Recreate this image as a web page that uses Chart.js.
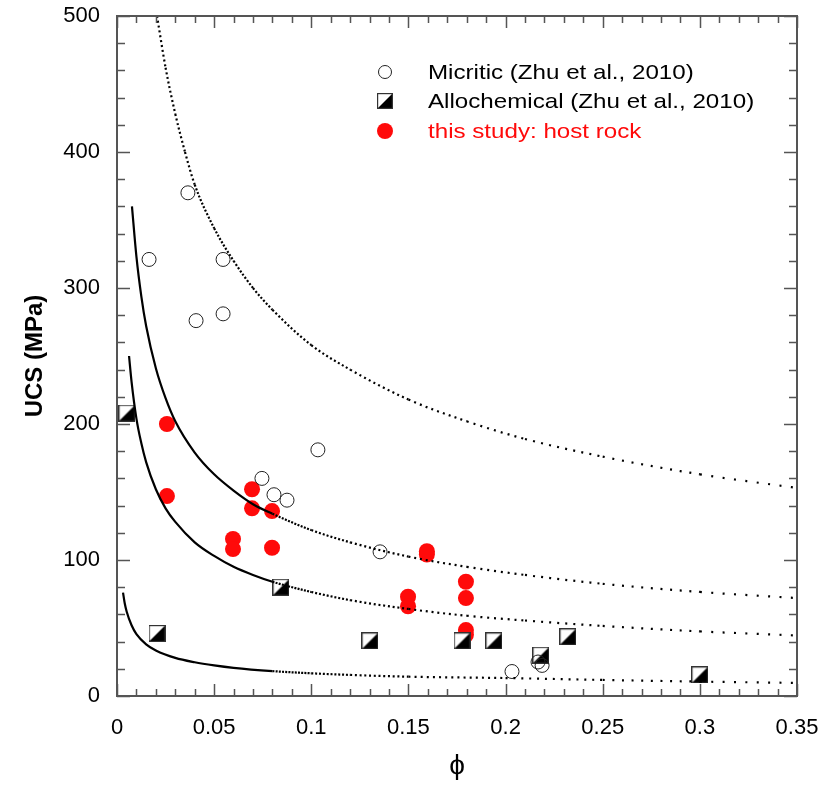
<!DOCTYPE html>
<html>
<head>
<meta charset="utf-8">
<script src="https://cdn.jsdelivr.net/npm/chart.js@4.4.1/dist/chart.umd.min.js"></script>
<style>
  html, body { margin: 0; padding: 0; background: #fff; }
  #wrap { width: 827px; height: 786px; }
</style>
</head>
<body>
<div id="wrap"><canvas id="chart" width="827" height="786"></canvas></div>
<script>
// Valores (porosidad ϕ vs UCS en MPa).
const X_TICKS = [0, 0.05, 0.1, 0.15, 0.2, 0.25, 0.3, 0.35];
const Y_TICKS = [0, 100, 200, 300, 400, 500];

// Curvas del modelo: parte sólida hasta SOLID_END, punteada después
const SOLID_END = 0.08;
const curveAPhi = [0.0206, 0.025, 0.03, 0.035, 0.04, 0.05, 0.06, 0.07, 0.08, 0.10, 0.12, 0.15, 0.18, 0.21, 0.25, 0.30, 0.35];
const curveAUcs = [500, 462, 428, 400, 376, 344, 320, 300, 284, 258, 240, 218, 202, 189, 176, 163, 153];
const curveBPhi = [0.0077, 0.01, 0.0125, 0.015, 0.02, 0.025, 0.03, 0.04, 0.05, 0.06, 0.07, 0.08, 0.10, 0.12, 0.15, 0.18, 0.21, 0.25, 0.30, 0.35];
const curveBUcs = [360, 323, 294, 272, 241, 219, 202, 179, 163, 151, 141, 134, 122, 113, 102.5, 95, 89, 82.5, 76.5, 72];
const curveCPhi = [0.0062, 0.0075, 0.01, 0.0125, 0.015, 0.02, 0.025, 0.03, 0.04, 0.05, 0.06, 0.07, 0.08, 0.10, 0.12, 0.15, 0.18, 0.21, 0.25, 0.30, 0.35];
const curveCUcs = [250, 231, 204, 186, 172, 152, 138, 128, 113, 103, 95, 89, 84, 76.5, 70.5, 64, 59, 55.5, 51.5, 47.5, 44.5];
const curveDPhi = [0.0031, 0.004, 0.005, 0.0075, 0.01, 0.015, 0.02, 0.03, 0.04, 0.05, 0.06, 0.08, 0.10, 0.12, 0.15, 0.20, 0.25, 0.30, 0.35];
const curveDUcs = [76, 68, 62, 52, 45.5, 38, 33.5, 28, 24.8, 22.5, 20.7, 18.3, 16.7, 15.5, 14.2, 13.2, 11.8, 10.6, 9.6];

// Datos puntuales
const micriticPhi = [0.0165, 0.0365, 0.0407, 0.0546, 0.0546, 0.0746, 0.0808, 0.0875, 0.1034, 0.1354, 0.2033, 0.2167, 0.2188];
const micriticUcs = [321, 370, 276, 321, 281, 160, 148, 144, 181, 106, 18, 25, 22.5];
const allochemPhi = [0.0051, 0.0206, 0.0844, 0.1302, 0.1776, 0.194, 0.2182, 0.2321, 0.300];
const allochemUcs = [208, 46, 80, 40.5, 40.5, 40.5, 30, 43.5, 15.5];
const hostPhi = [0.0257, 0.0257, 0.0695, 0.0695, 0.0798, 0.0597, 0.0597, 0.0798, 0.1595, 0.1595, 0.1498, 0.1498, 0.1796, 0.1796, 0.1796, 0.1796];
const hostUcs = [200, 147, 152, 138, 136, 115.5, 108, 109, 104, 106.5, 73, 66, 84, 72, 48.5, 45];

const LEGEND_LABELS = ['Micritic (Zhu et al., 2010)', 'Allochemical (Zhu et al., 2010)', 'this study: host rock'];

const RED = '#ff0a0a';
const FONT = "Arial, 'Liberation Sans', Helvetica, sans-serif";

const pts = (xs, ys) => xs.map((x, i) => ({ x, y: ys[i] }));

// Cuadrado mitad negro (triángulo inferior derecho)
function halfSquare(size) {
  const c = document.createElement('canvas');
  c.width = size; c.height = size;
  const g = c.getContext('2d');
  g.fillStyle = '#fff';
  g.fillRect(0, 0, size, size);
  g.fillStyle = '#000';
  g.beginPath();
  g.moveTo(size, 0);
  g.lineTo(size, size);
  g.lineTo(0, size);
  g.closePath();
  g.fill();
  g.strokeStyle = '#333';
  g.lineWidth = 1.2;
  g.strokeRect(0.6, 0.6, size - 1.2, size - 1.2);
  return c;
}
const squareImg = halfSquare(17);
const squareLegend = halfSquare(16);

// Punteado: los puntos se separan más a medida que crece ϕ
function dotted(ctx, solidEnd) {
  if (ctx.p0.parsed.x < solidEnd - 1e-9) return undefined;
  const dx = Math.max(ctx.p1.x - ctx.p0.x, 0.1);
  const len = Math.hypot(ctx.p1.x - ctx.p0.x, ctx.p1.y - ctx.p0.y);
  const phi = (ctx.p0.parsed.x + ctx.p1.parsed.x) / 2;
  const period = Math.max(3.2, 35 * phi * len / dx);
  return [2, period - 2];
}

function curveDataset(xs, ys, solidEnd) {
  return {
    data: pts(xs, ys),
    showLine: true,
    pointRadius: 0,
    borderColor: '#000',
    borderWidth: 2.2,
    cubicInterpolationMode: 'monotone',
    segment: { borderDash: ctx => dotted(ctx, solidEnd) }
  };
}

// Marco con ticks hacia adentro en los cuatro lados + leyenda
const framePlugin = {
  id: 'frame',
  afterDatasetsDraw(chart) {
    const { ctx, chartArea: a, scales: { x, y } } = chart;
    ctx.save();
    ctx.strokeStyle = '#555';
    ctx.lineWidth = 1.5;
    ctx.beginPath();
    for (let i = 0; i <= 35; i++) {
      const px = Math.round(x.getPixelForValue(i / 100)) + 0.5;
      const len = i % 5 === 0 ? 12 : 7;
      ctx.moveTo(px, a.bottom); ctx.lineTo(px, a.bottom - len);
      ctx.moveTo(px, a.top); ctx.lineTo(px, a.top + len);
    }
    for (let v = 0; v <= 500; v += 20) {
      const py = Math.round(y.getPixelForValue(v)) + 0.5;
      const len = v % 100 === 0 ? 13 : 8;
      ctx.moveTo(a.left, py); ctx.lineTo(a.left + len, py);
      ctx.moveTo(a.right, py); ctx.lineTo(a.right - len, py);
    }
    ctx.stroke();
    ctx.lineWidth = 2;
    ctx.strokeRect(a.left, a.top, a.right - a.left, a.bottom - a.top);

    // leyenda
    const mx = 385, tx = 428, rows = [72, 101, 131];
    ctx.lineWidth = 1;
    ctx.strokeStyle = '#222';
    ctx.beginPath();
    ctx.arc(mx, rows[0], 6.5, 0, Math.PI * 2);
    ctx.stroke();
    ctx.drawImage(squareLegend, mx - 8, rows[1] - 8);
    ctx.fillStyle = RED;
    ctx.beginPath();
    ctx.arc(mx, rows[2], 8, 0, Math.PI * 2);
    ctx.fill();

    ctx.font = '21px ' + FONT;
    ctx.textBaseline = 'middle';
    ctx.textAlign = 'left';
    LEGEND_LABELS.forEach((label, i) => {
      ctx.save();
      ctx.translate(tx, rows[i] + 1);
      ctx.scale(1.15, 1);
      ctx.fillStyle = i === 2 ? RED : '#000';
      ctx.fillText(label, 0, 0);
      ctx.restore();
    });
    ctx.restore();
  }
};

new Chart(document.getElementById('chart'), {
  type: 'scatter',
  data: {
    datasets: [
      curveDataset(curveAPhi, curveAUcs, 0),
      curveDataset(curveBPhi, curveBUcs, SOLID_END),
      curveDataset(curveCPhi, curveCUcs, SOLID_END),
      curveDataset(curveDPhi, curveDUcs, SOLID_END),
      {
        data: pts(micriticPhi, micriticUcs),
        pointStyle: 'circle',
        pointRadius: 7,
        borderWidth: 1,
        borderColor: '#222',
        backgroundColor: 'rgba(0,0,0,0)'
      },
      {
        data: pts(allochemPhi, allochemUcs),
        pointStyle: squareImg
      },
      {
        data: pts(hostPhi, hostUcs),
        pointStyle: 'circle',
        pointRadius: 8,
        borderWidth: 0,
        backgroundColor: RED
      }
    ]
  },
  options: {
    responsive: false,
    animation: false,
    layout: { padding: { top: 16, right: 30, left: 0, bottom: 0 } },
    plugins: { legend: { display: false }, tooltip: { enabled: false } },
    scales: {
      x: {
        type: 'linear',
        min: 0, max: 0.35,
        afterFit: s => { s.height = 90; s.paddingLeft = 0; s.paddingRight = 0; },
        afterBuildTicks: s => { s.ticks = X_TICKS.map(v => ({ value: v })); },
        grid: { display: false, drawTicks: false },
        border: { display: false },
        ticks: {
          padding: 19,
          color: '#000',
          font: { family: FONT, size: 22 },
          callback: v => String(+Number(v).toFixed(2))
        },
        title: {
          display: true,
          text: 'ϕ',
          color: '#000',
          font: { family: FONT, size: 28 },
          padding: { top: 0, bottom: 3 }
        }
      },
      y: {
        min: 0, max: 500,
        afterFit: s => { s.width = 117; s.paddingTop = 0; s.paddingBottom = 0; },
        afterBuildTicks: s => { s.ticks = Y_TICKS.map(v => ({ value: v })); },
        grid: { display: false, drawTicks: false },
        border: { display: false },
        ticks: {
          padding: 17,
          color: '#000',
          font: { family: FONT, size: 22 }
        },
        title: {
          display: true,
          text: 'UCS (MPa)',
          color: '#000',
          font: { family: FONT, size: 24, weight: 'bold' },
          padding: { top: 21, bottom: 0 }
        }
      }
    }
  },
  plugins: [framePlugin]
});
</script>
</body>
</html>
